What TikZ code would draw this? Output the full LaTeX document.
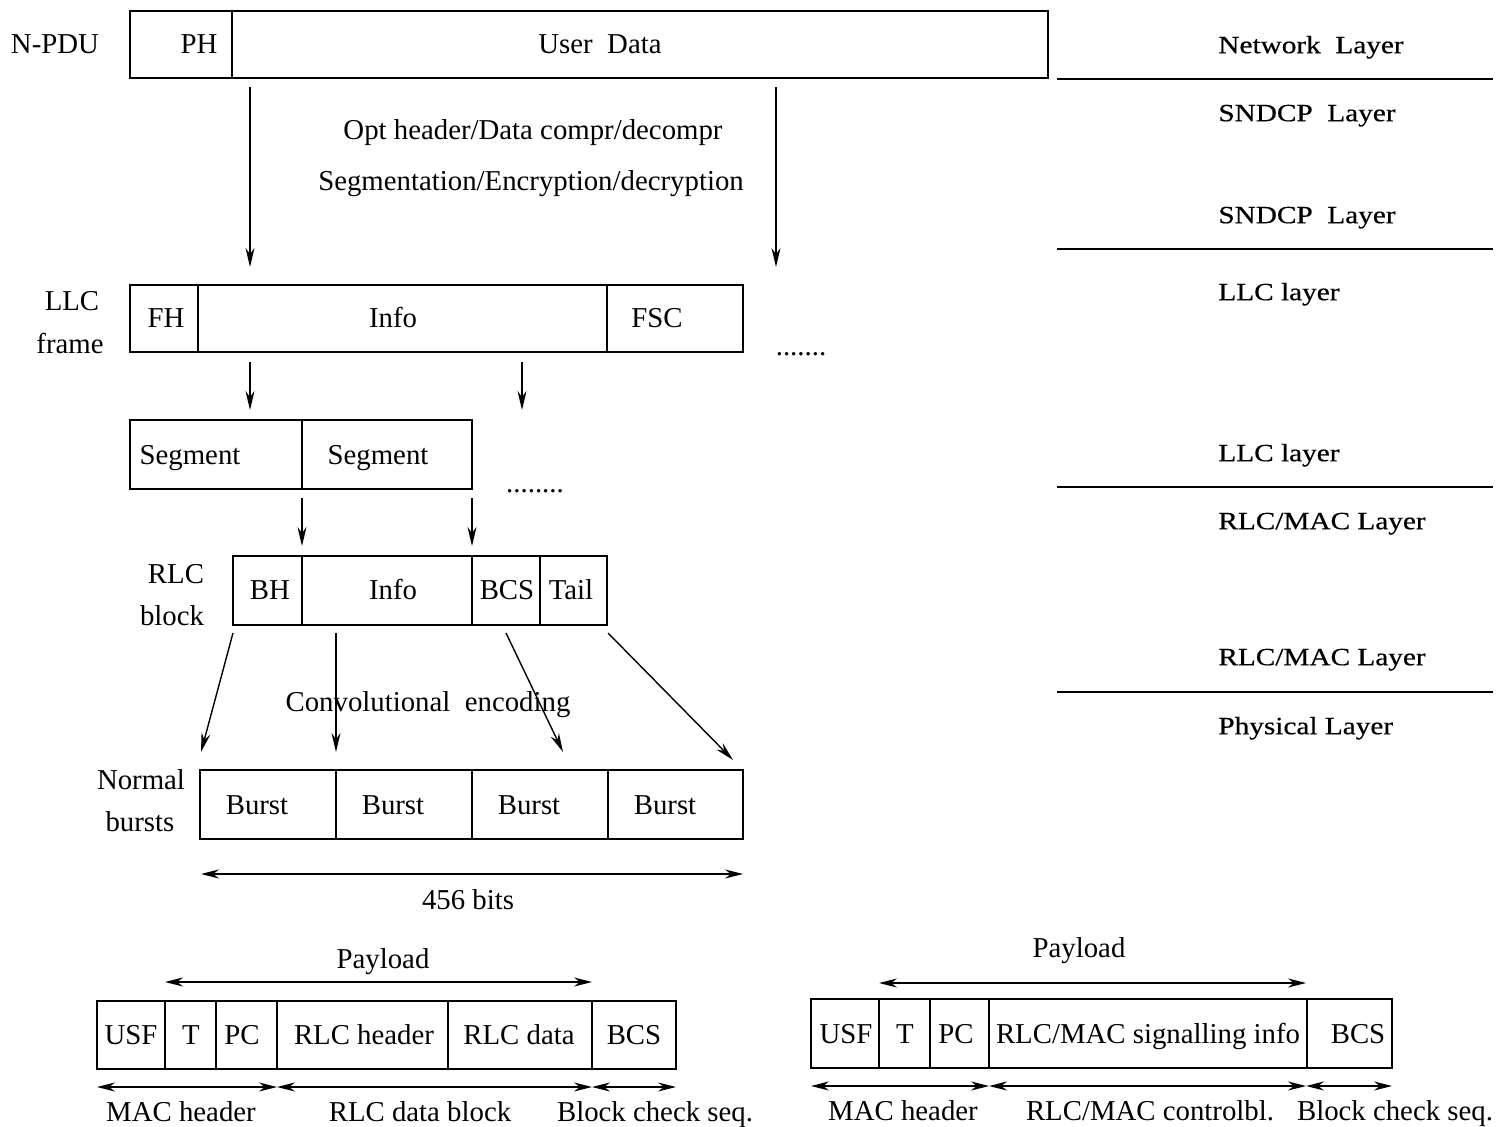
\documentclass[tikz,border=0pt]{standalone}
\usepackage{fontspec}
\setmainfont{Liberation Serif}
\newfontfamily\wideserif{Liberation Serif}[FakeStretch=1.18,FakeBold=0.5]
\usetikzlibrary{arrows.meta}
% a framed cell spanning x #2..#3 and y #4..#5 (one unit per pixel)
\newcommand\cellbox[5]{\node[cell,minimum width={(#3-#2)*0.5pt},minimum height={(#5-#4)*0.5pt}] (#1) at ({(#2+#3)/2},{(#4+#5)/2}) {};}
\begin{document}
\begin{tikzpicture}[x=0.5pt,y=-0.5pt,
  cell/.style={draw,line width=0.9pt,inner sep=0pt,outer sep=0pt},
  txt/.style={font=\fontsize{14.4}{16}\selectfont,inner sep=0pt,text height=9.5pt,text depth=0pt},
  lay/.style={font=\wideserif\fontsize{12.4}{14}\selectfont,anchor=west,inner sep=0pt,text height=8.2pt,text depth=0pt},
  flow/.style={line width=0.7pt,-{Stealth[length=9.5pt,width=4.5pt]}},
  span/.style={line width=0.7pt,{Stealth[length=9pt,width=4.5pt]}-{Stealth[length=9pt,width=4.5pt]}},
  layline/.style={line width=0.7pt},
]
\useasboundingbox (0,0) rectangle (1499,1127);

% ---------- N-PDU ----------
\cellbox{ph}{130}{232}{11}{78}
\cellbox{ud}{232}{1048}{11}{78}
\node[txt] (npdu) at (55,44) {N-PDU};
\node[txt] (tph) at (199,44) {PH};
\node[txt] (tud) at (600,44) {User~~Data};

\coordinate (a1s) at (250,87);  \coordinate (a1e) at (250,267);
\coordinate (a2s) at (776,87);  \coordinate (a2e) at (776,267);
\draw[flow] (a1s) -- (a1e);
\draw[flow] (a2s) -- (a2e);
\node[txt] (opt) at (533,130) {Opt header/Data compr/decompr};
\node[txt] (seg) at (531,181) {Segmentation/Encryption/decryption};

% ---------- LLC frame ----------
\cellbox{fh}{130}{198}{285}{352}
\cellbox{linfo}{198}{607}{285}{352}
\cellbox{fsc}{607}{743}{285}{352}
\node[txt] (tfh) at (166,318) {FH};
\node[txt] (tlinfo) at (393,318) {Info};
\node[txt] (tfsc) at (657,318) {FSC};
\node[txt] (llc1) at (72,301) {LLC};
\node[txt] (llc2) at (70,344) {frame};
\node[txt] (dots1) at (801,346) {.......};

\coordinate (b1s) at (250,362); \coordinate (b1e) at (250,410);
\coordinate (b2s) at (522,362); \coordinate (b2e) at (522,410);
\draw[flow] (b1s) -- (b1e);
\draw[flow] (b2s) -- (b2e);

% ---------- Segments ----------
\cellbox{sg1}{130}{302}{420}{489}
\cellbox{sg2}{302}{472}{420}{489}
\node[txt] (tsg1) at (190,455) {Segment};
\node[txt] (tsg2) at (378,455) {Segment};
\node[txt] (dots2) at (535,483) {........};

\coordinate (c1s) at (302,498); \coordinate (c1e) at (302,546);
\coordinate (c2s) at (472,498); \coordinate (c2e) at (472,546);
\draw[flow] (c1s) -- (c1e);
\draw[flow] (c2s) -- (c2e);

% ---------- RLC block ----------
\cellbox{bh}{233}{302}{556}{625}
\cellbox{rinfo}{302}{472}{556}{625}
\cellbox{bcs}{472}{540}{556}{625}
\cellbox{tail}{540}{607}{556}{625}
\node[txt] (tbh) at (270,590) {BH};
\node[txt] (trinfo) at (393,590) {Info};
\node[txt] (tbcs) at (507,590) {BCS};
\node[txt] (ttail) at (571,590) {Tail};
\node[txt] (rlc1) at (176,574) {RLC};
\node[txt] (rlc2) at (172,616) {block};

\coordinate (d1s) at (233,633); \coordinate (d1e) at (201,752);
\coordinate (d2s) at (336,633); \coordinate (d2e) at (336,752);
\coordinate (d3s) at (506,633); \coordinate (d3e) at (563,752);
\coordinate (d4s) at (608,633); \coordinate (d4e) at (733,760);
\draw[flow] (d1s) -- (d1e);
\draw[flow] (d2s) -- (d2e);
\draw[flow] (d3s) -- (d3e);
\draw[flow] (d4s) -- (d4e);
\node[txt] (conv) at (428,702) {Convolutional~~encoding};

% ---------- Normal bursts ----------
\cellbox{bu1}{200}{336}{770}{839}
\cellbox{bu2}{336}{472}{770}{839}
\cellbox{bu3}{472}{608}{770}{839}
\cellbox{bu4}{608}{743}{770}{839}
\node[txt] (tbu1) at (257,805) {Burst};
\node[txt] (tbu2) at (393,805) {Burst};
\node[txt] (tbu3) at (529,805) {Burst};
\node[txt] (tbu4) at (665,805) {Burst};
\node[txt] (nb1) at (141,780) {Normal};
\node[txt] (nb2) at (140,822) {bursts};

\coordinate (e1) at (201,874); \coordinate (e2) at (743,874);
\draw[span] (e1) -- (e2);
\node[txt] (bits) at (468,900) {456 bits};

% ---------- Data block (bottom left) ----------
\cellbox{lusf}{97}{165}{1001}{1069}
\cellbox{lt}{165}{216}{1001}{1069}
\cellbox{lpc}{216}{277}{1001}{1069}
\cellbox{lrh}{277}{448}{1001}{1069}
\cellbox{lrd}{448}{592}{1001}{1069}
\cellbox{lbcs}{592}{676}{1001}{1069}
\node[txt] (tlusf) at (131,1035) {USF};
\node[txt] (tlt) at (191,1035) {T};
\node[txt] (tlpc) at (242,1035) {PC};
\node[txt] (tlrh) at (364,1035) {RLC header};
\node[txt] (tlrd) at (519,1035) {RLC data};
\node[txt] (tlbcs) at (634,1035) {BCS};

\coordinate (f1) at (165,982); \coordinate (f2) at (592,982);
\draw[span] (f1) -- (f2);
\node[txt] (lpay) at (383,959) {Payload};
\coordinate (g1) at (97,1087);  \coordinate (g2) at (277,1087);
\coordinate (g3) at (592,1087); \coordinate (g4) at (676,1087);
\draw[span] (g1) -- (g2);
\draw[span] (g2) -- (g3);
\draw[span] (g3) -- (g4);
\node[txt] (lmac) at (181,1112) {MAC header};
\node[txt] (lrdb) at (420,1112) {RLC data block};
\node[txt] (lbcsq) at (655,1112) {Block check seq.};

% ---------- Control block (bottom right) ----------
\cellbox{rusf}{811}{879}{999}{1068}
\cellbox{rt}{879}{930}{999}{1068}
\cellbox{rpc}{930}{989}{999}{1068}
\cellbox{rsig}{989}{1307}{999}{1068}
\cellbox{rbcs}{1307}{1392}{999}{1068}
\node[txt] (trusf) at (846,1034) {USF};
\node[txt] (trt) at (905,1034) {T};
\node[txt] (trpc) at (956,1034) {PC};
\node[txt] (trsig) at (1148,1034) {RLC/MAC signalling info};
\node[txt] (trbcs) at (1358,1034) {BCS};

\coordinate (h1) at (879,983); \coordinate (h2) at (1306,983);
\draw[span] (h1) -- (h2);
\node[txt] (rpay) at (1079,948) {Payload};
\coordinate (k1) at (811,1086);  \coordinate (k2) at (989,1086);
\coordinate (k3) at (1306,1086); \coordinate (k4) at (1392,1086);
\draw[span] (k1) -- (k2);
\draw[span] (k2) -- (k3);
\draw[span] (k3) -- (k4);
\node[txt] (rmac) at (903,1111) {MAC header};
\node[txt] (rctl) at (1150,1111) {RLC/MAC controlbl.};
\node[txt] (rbcsq) at (1395,1111) {Block check seq.};

% ---------- Layer boundaries ----------
\draw[layline] (1057,79) -- (1493,79);
\draw[layline] (1057,249) -- (1493,249);
\draw[layline] (1057,487) -- (1493,487);
\draw[layline] (1057,692) -- (1493,692);
\node[lay] (ly1) at (1218,45) {Network~~Layer};
\node[lay] (ly2) at (1218,113) {SNDCP~~Layer};
\node[lay] (ly3) at (1218,215) {SNDCP~~Layer};
\node[lay] (ly4) at (1218,292) {LLC layer};
\node[lay] (ly5) at (1218,453) {LLC layer};
\node[lay] (ly6) at (1218,521) {RLC/MAC Layer};
\node[lay] (ly7) at (1218,657) {RLC/MAC Layer};
\node[lay] (ly8) at (1218,726) {Physical Layer};
\end{tikzpicture}
\end{document}
